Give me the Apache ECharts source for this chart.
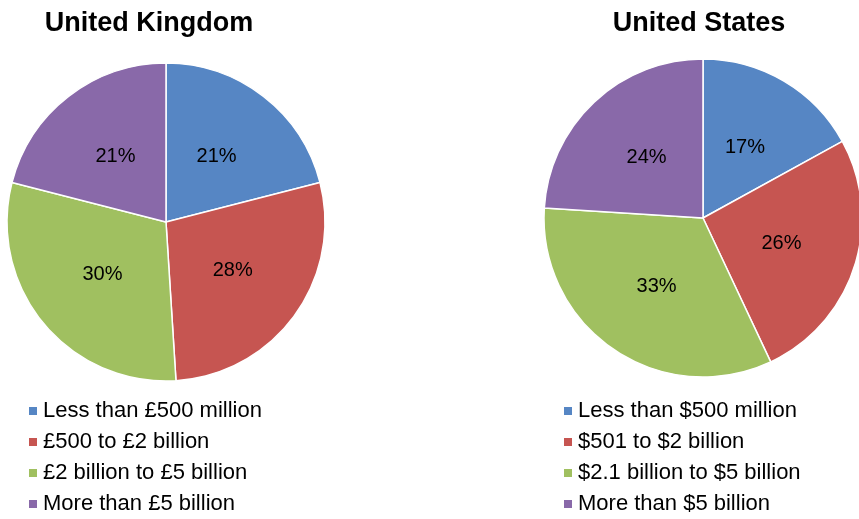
<!DOCTYPE html>
<html>
<head>
<meta charset="utf-8">
<script src="https://cdn.jsdelivr.net/npm/echarts@6/dist/echarts.min.js"></script>
<style>
  html, body { margin: 0; padding: 0; background: #fff; }
  #chart { width: 859px; height: 519px; }
</style>
</head>
<body>
<div id="chart"></div>
<script>
// Company size bands, share of companies (%)
const ukCategories = ['Less than £500 million', '£500 to £2 billion', '£2 billion to £5 billion', 'More than £5 billion'];
const ukValues = [21, 28, 30, 21];
const usCategories = ['Less than $500 million', '$501 to $2 billion', '$2.1 billion to $5 billion', 'More than $5 billion'];
const usValues = [17, 26, 33, 24];
const sliceColors = ['#5686C4', '#C65551', '#A0C060', '#8969A9'];

const font = 'Liberation Sans, Arial, sans-serif';

function pieData(names, values) {
  return names.map((n, i) => ({ name: n, value: values[i], itemStyle: { color: sliceColors[i] } }));
}

function pieSeries(names, values, cx, cy) {
  return {
    type: 'pie',
    center: [cx, cy],
    radius: [0, 159],
    startAngle: 90,
    clockwise: true,
    silent: true,
    animation: false,
    itemStyle: { borderColor: '#ffffff', borderWidth: 1.5 },
    label: {
      show: true,
      position: 'inside',
      formatter: '{c}%',
      color: '#000',
      fontFamily: font,
      fontSize: 20
    },
    labelLine: { show: false },
    data: pieData(names, values)
  };
}

function legendFor(names, left) {
  return {
    orient: 'vertical',
    left: left,
    top: 395,
    height: 124,
    data: names,
    icon: 'rect',
    itemWidth: 10,
    itemHeight: 10,
    itemGap: 9,
    selectedMode: false,
    textStyle: { fontFamily: font, fontSize: 22, color: '#000', lineHeight: 22 }
  };
}

const chart = echarts.init(document.getElementById('chart'), null, { renderer: 'canvas' });
chart.setOption({
  backgroundColor: '#fff',
  animation: false,
  title: [
    { text: 'United Kingdom', left: 144, top: 5, textAlign: 'center',
      textStyle: { fontFamily: font, fontWeight: 'bold', fontSize: 27, color: '#000' } },
    { text: 'United States', left: 694, top: 5, textAlign: 'center',
      textStyle: { fontFamily: font, fontWeight: 'bold', fontSize: 27, color: '#000' } }
  ],
  legend: [legendFor(ukCategories, 22), legendFor(usCategories, 557)],
  series: [
    pieSeries(ukCategories, ukValues, 166, 222),
    pieSeries(usCategories, usValues, 703, 218)
  ]
});
</script>
</body>
</html>
